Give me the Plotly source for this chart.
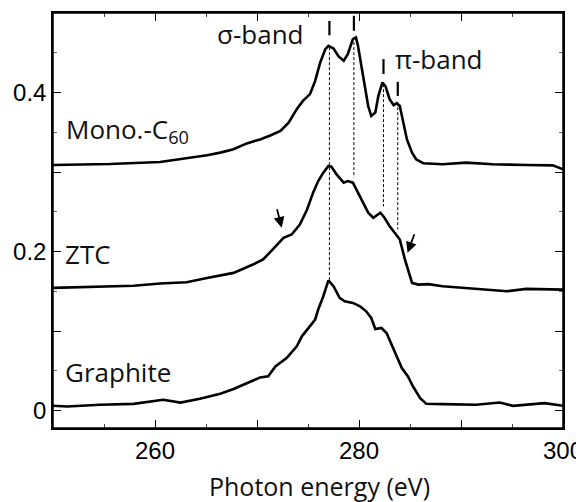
import plotly.graph_objects as go

# ---------------- data ----------------
mono_energy = [250.0, 255.6, 260.5, 263.1, 265.1, 266.4, 267.7, 269.0, 270.3, 271.3, 272.3, 273.1,
               273.9, 274.5, 275.2, 275.7, 276.2, 276.7, 277.0, 277.5, 278.0, 278.5, 278.9, 279.4,
               279.7, 279.9, 280.3, 280.6, 280.9, 281.2, 281.6, 281.9, 282.3, 282.6, 283.0, 283.4,
               283.7, 284.0, 284.3, 284.7, 285.2, 285.6, 286.3, 288.2, 290.5, 293.1, 296.4, 299.0, 300.0]
mono_signal = [0.3088, 0.3100, 0.3125, 0.3170, 0.3210, 0.3244, 0.3286, 0.3360, 0.3410, 0.3460, 0.3516, 0.3620,
               0.3790, 0.3894, 0.3980, 0.4146, 0.4378, 0.4546, 0.4587, 0.4554, 0.4453, 0.4398, 0.4483, 0.4672,
               0.4693, 0.4587, 0.4294, 0.4040, 0.3830, 0.3705, 0.3748, 0.3957, 0.4126, 0.4076, 0.3916, 0.3840,
               0.3865, 0.3830, 0.3642, 0.3410, 0.3244, 0.3160, 0.3110, 0.3097, 0.3118, 0.3097, 0.3088, 0.3084, 0.3033]

ztc_energy = [250.0, 253.0, 257.9, 260.5, 263.1, 265.1, 267.7, 269.6, 270.6, 271.5, 272.6, 273.4, 274.2,
              274.9, 275.5, 276.0, 276.5, 277.0, 277.3, 277.8, 278.5, 278.9, 279.4, 279.9, 280.4, 280.9,
              281.4, 282.1, 282.5, 283.0, 283.5, 284.0, 284.5, 285.2, 285.8, 286.8, 288.2, 291.5, 294.5,
              296.4, 299.7, 300.0]
ztc_signal = [0.1542, 0.1555, 0.1570, 0.1597, 0.1613, 0.1668, 0.1731, 0.1836, 0.1900, 0.2020, 0.2172, 0.2214, 0.2340,
              0.2525, 0.2740, 0.2886, 0.2992, 0.3075, 0.3067, 0.2970, 0.2866, 0.2886, 0.2866, 0.2740, 0.2614, 0.2488,
              0.2425, 0.2488, 0.2425, 0.2319, 0.2236, 0.2151, 0.1900, 0.1606, 0.1584, 0.1590, 0.1563, 0.1534, 0.1500,
              0.1530, 0.1521, 0.1521]

graphite_energy = [250.0, 251.4, 254.6, 257.9, 260.8, 262.5, 264.4, 266.4, 267.7, 269.0, 270.3, 271.1, 271.8,
                   272.9, 273.9, 274.4, 275.2, 275.7, 276.0, 276.5, 277.0, 277.5, 278.1, 278.6, 279.4, 280.1,
                   280.7, 281.2, 281.6, 282.2, 282.7, 283.2, 283.7, 284.2, 284.8, 285.3, 286.0, 286.6, 288.2,
                   291.5, 293.8, 295.1, 298.2, 300.0]
graphite_signal = [0.0060, 0.0050, 0.0072, 0.0084, 0.0135, 0.0100, 0.0147, 0.0210, 0.0270, 0.0345, 0.0415, 0.0430, 0.0555,
                   0.0660, 0.0807, 0.0933, 0.1059, 0.1143, 0.1270, 0.1437, 0.1638, 0.1563, 0.1417, 0.1374, 0.1353, 0.1311,
                   0.1248, 0.1164, 0.1026, 0.1038, 0.0975, 0.0828, 0.0680, 0.0534, 0.0428, 0.0302, 0.0156, 0.0084, 0.0080,
                   0.0072, 0.0100, 0.0059, 0.0093, 0.0059]

# peak guide lines
peak_energy = [277.1, 279.5, 282.4, 283.8]
peak_mark_top = [0.490, 0.4965, 0.442, 0.4134]
peak_mark_bottom = [0.472, 0.4776, 0.4234, 0.3957]
peak_dash_top = [0.457, 0.4634, 0.4105, 0.3878]
peak_dash_bottom = [0.1647, 0.2933, 0.2568, 0.2278]

# arrows on ZTC (tail -> tip)
arrow_tail_x = [271.93, 285.48]
arrow_tail_y = [0.2551, 0.2236]
arrow_tip_x = [272.42, 284.76]
arrow_tip_y = [0.2299, 0.1984]

x_tickvals = [260, 270, 280, 290, 300]
x_ticktext = ["260", "", "280", "", "300"]
x_minor_vals = [255, 265, 275, 285, 295]
y_tickvals = [0, 0.1, 0.2, 0.3, 0.4, 0.5]
y_ticktext = ["0", "", "0.2", "", "0.4", ""]
y_minor_vals = [0.05, 0.15, 0.25, 0.35, 0.45]

# ---------------- figure ----------------
fig = go.Figure()
line_style = dict(color="black", width=2.6)
for xs, ys in [(mono_energy, mono_signal), (ztc_energy, ztc_signal), (graphite_energy, graphite_signal)]:
    fig.add_trace(go.Scatter(x=xs, y=ys, mode="lines", line=line_style, showlegend=False, hoverinfo="skip"))

for e, t, b in zip(peak_energy, peak_dash_top, peak_dash_bottom):
    fig.add_trace(go.Scatter(x=[e, e], y=[t, b], mode="lines",
                             line=dict(color="black", width=1, dash="3px,2px"),
                             showlegend=False, hoverinfo="skip"))
for e, t, b in zip(peak_energy, peak_mark_top, peak_mark_bottom):
    fig.add_trace(go.Scatter(x=[e, e], y=[t, b], mode="lines",
                             line=dict(color="black", width=2.2),
                             showlegend=False, hoverinfo="skip"))

for tx, ty, hx, hy in zip(arrow_tail_x, arrow_tail_y, arrow_tip_x, arrow_tip_y):
    fig.add_annotation(x=hx, y=hy, ax=tx, ay=ty, xref="x", yref="y", axref="x", ayref="y",
                       showarrow=True, arrowhead=2, arrowsize=1.2, arrowwidth=1.8,
                       arrowcolor="black", text="")

text_font = dict(family="Open Sans", size=26, color="#111111")
labels = [
    ("Mono.-C<sub>60</sub>", 251.1, 0.353),
    ("ZTC", 251.0, 0.197),
    ("Graphite", 251.0, 0.049),
    ("σ-band", 265.9, 0.473),
    ("π-band", 283.3, 0.442),
]
for txt, x, y in labels:
    fig.add_annotation(x=x, y=y, xref="x", yref="y", text=txt, showarrow=False,
                       xanchor="left", yanchor="middle", font=text_font)

fig.add_annotation(x=0.5225, y=-0.139, xref="paper", yref="paper", text="Photon energy (eV)",
                   showarrow=False, xanchor="center", yanchor="middle",
                   font=dict(family="Open Sans", size=25, color="#111111"))

fig.update_layout(
    xaxis=dict(range=[250, 300], tickmode="array", tickvals=x_tickvals, ticktext=x_ticktext,
               showline=True, linecolor="#000000", linewidth=1.5, mirror="ticks",
               ticks="inside", ticklen=8, tickwidth=1.3, tickcolor="#000000",
               minor=dict(tickmode="array", tickvals=x_minor_vals, ticks="inside",
                          ticklen=4, tickwidth=1, tickcolor="#444444"),
               showgrid=False, zeroline=False, layer="above traces",
               tickfont=dict(family="Liberation Sans", size=24, color="black")),
    yaxis=dict(range=[-0.022, 0.5], tickmode="array", tickvals=y_tickvals, ticktext=y_ticktext,
               showline=True, linecolor="#000000", linewidth=1.5, mirror="ticks",
               ticks="inside", ticklen=8, tickwidth=1.3, tickcolor="#000000",
               minor=dict(tickmode="array", tickvals=y_minor_vals, ticks="inside",
                          ticklen=4, tickwidth=1, tickcolor="#666666"),
               showgrid=False, zeroline=False, layer="above traces",
               tickfont=dict(family="Liberation Sans", size=24, color="black")),
)

# plot frame
fig.add_shape(type="rect", xref="paper", yref="paper", x0=0, x1=1, y0=0, y1=1,
              line=dict(color="black", width=1.5), fillcolor="rgba(0,0,0,0)",
              opacity=1, layer="above")

# the page body adds an 8px offset, so the figure is 8px smaller than the window
fig.update_layout(template="none",
                  width=576, height=494, margin=dict(l=45, r=21, t=5, b=74, autoexpand=False),
                  paper_bgcolor="white", plot_bgcolor="white", showlegend=False)

fig.write_html("out.html")
